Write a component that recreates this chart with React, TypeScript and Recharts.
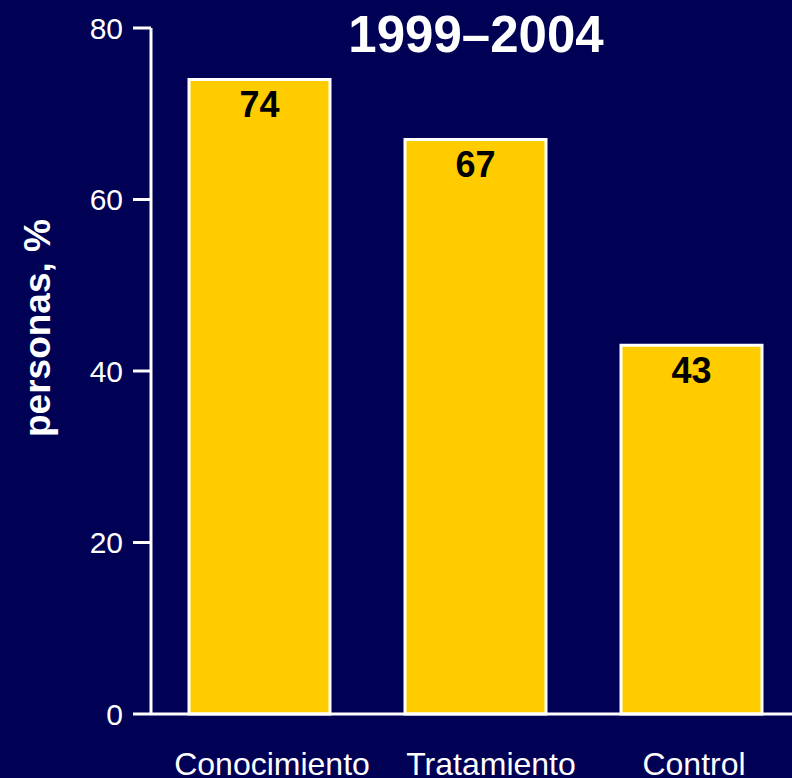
import React from 'react';
import { BarChart, Bar, XAxis, YAxis, LabelList } from 'recharts';

const categories = ['Conocimiento', 'Tratamiento', 'Control'];
const personas = [74, 67, 43];
const yTicks = [0, 20, 40, 60, 80];
const title = '1999–2004';
const yTitle = 'personas, %';

const BG = '#000055';
const BAR = '#ffcc00';
const FONT = '"Liberation Sans", Arial, sans-serif';

// labels in the original sit a little to the right of the bar centres
const LABEL_SHIFT = [13, 16, 3];

const data = categories.map((name, i) => ({ name, value: personas[i] }));

const XTick = (props: any) => {
  const { x, y, payload, index } = props;
  return (
    <text
      x={x + (LABEL_SHIFT[index] || 0)}
      y={y + 53}
      textAnchor="middle"
      fill="#ffffff"
      fontSize={32}
      fontFamily={FONT}
    >
      {payload.value}
    </text>
  );
};

const ValueLabel = (props: any) => {
  const { x, y, width, value } = props;
  return (
    <text
      x={x + width / 2}
      y={y + 38}
      textAnchor="middle"
      fill="#000000"
      fontSize={36}
      fontWeight="bold"
      fontFamily={FONT}
    >
      {value}
    </text>
  );
};

const YTitle = () => (
  <text
    transform="translate(50,328) rotate(-90)"
    x={0}
    y={0}
    textAnchor="middle"
    fill="#ffffff"
    fontSize={37}
    fontWeight="bold"
    fontFamily={FONT}
  >
    {yTitle}
  </text>
);

export default function App() {
  return (
    <div
      style={{
        position: 'absolute',
        left: 0,
        top: 0,
        width: 792,
        height: 778,
        overflow: 'hidden',
        background: BG,
        fontFamily: FONT,
      }}
    >
      <BarChart
        width={800}
        height={778}
        data={data}
        margin={{ top: 28, right: 1, bottom: 0, left: 0 }}
        style={{ background: BG }}
      >
        <XAxis
          dataKey="name"
          height={64}
          axisLine={{ stroke: '#ffffff', strokeWidth: 3 }}
          tickLine={false}
          tick={<XTick />}
          interval={0}
        />
        <YAxis
          width={151}
          domain={[0, 80]}
          ticks={yTicks}
          axisLine={{ stroke: '#ffffff', strokeWidth: 3 }}
          tickLine={{ stroke: '#ffffff', strokeWidth: 3 }}
          tickSize={18}
          tickMargin={10}
          tick={{ fill: '#ffffff', fontSize: 30, fontFamily: FONT }}
          label={<YTitle />}
        />
        <Bar
          dataKey="value"
          fill={BAR}
          stroke="#ffffff"
          strokeWidth={3}
          barSize={141}
          isAnimationActive={false}
        >
          <LabelList dataKey="value" content={<ValueLabel />} />
        </Bar>
      </BarChart>
      <div
        style={{
          position: 'absolute',
          left: 476,
          top: 9,
          transform: 'translateX(-50%)',
          color: '#ffffff',
          fontSize: 51,
          fontWeight: 'bold',
          fontFamily: FONT,
          whiteSpace: 'nowrap',
          lineHeight: '51px',
        }}
      >
        {title}
      </div>
    </div>
  );
}
